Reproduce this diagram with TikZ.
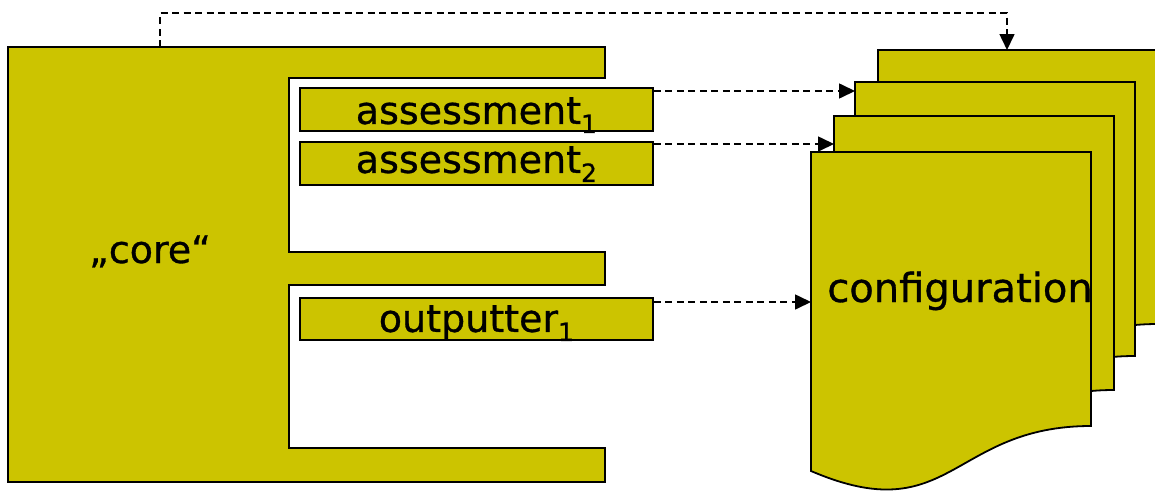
\documentclass[tikz,border=0pt]{standalone}
\usepackage{fontspec}
\setmainfont[FakeBold=0.8]{DejaVu Sans}
\usetikzlibrary{arrows.meta,calc}
\definecolor{sheetfill}{RGB}{204,196,0}
% lowered index digit used in the box labels
\newcommand\subidx[1]{\raisebox{-9pt}{\fontsize{25}{25}\selectfont #1}}
\tikzset{
  outlined/.style={fill=sheetfill,draw=black,line width=1.8pt,line join=miter},
  boxstyle/.style={outlined,rectangle,inner sep=0pt,anchor=north west,
    minimum width=353pt,font=\fontsize{38}{40}\selectfont},
  labeltext/.style={font=\fontsize{38}{40}\selectfont,anchor=base,inner sep=0pt},
  link/.style={line width=1.6pt,dash pattern=on 7pt off 4.5pt,
    -{Triangle[length=16pt,width=15pt]}},
  % document sheet with a wavy lower edge
  docsheet/.pic={
    \path[outlined] (0,0) -- (280,0) -- (280,274)
      .. controls (140,274) and (140,379) .. (0,319) -- cycle;
    \coordinate (-w) at (0,0);
    \coordinate (-top) at (129,0);
  }
}
\begin{document}
\begin{tikzpicture}[x=1pt,y=-1pt]
\clip (0,0) rectangle (1155,490);
\fill[white] (0,0) rectangle (1155,490);

% the E-shaped core block
\draw[outlined,line width=1.5pt]
  (8,47) -- (605,47) -- (605,78) -- (289,78) -- (289,252) -- (605,252)
  -- (605,285) -- (289,285) -- (289,448) -- (605,448) -- (605,482)
  -- (8,482) -- cycle;
\node[labeltext] (core) at (150,263) {„core“};
\coordinate (coretop) at (160,47);

% plug-in boxes
\node[boxstyle,text height=36pt,text depth=7pt] (a1) at (299,87)
  {assessment\subidx{1}};
\node[boxstyle,text height=31pt,text depth=12pt] (a2) at (299,141)
  {assessment\subidx{2}};
\node[boxstyle,text height=34pt,text depth=8pt] (o1) at (299,297)
  {outputter\subidx{1}};

% stack of configuration sheets, back to front
\pic (d4) at (878,50) {docsheet};
\pic (d3) at (855,82) {docsheet};
\pic (d2) at (834,116) {docsheet};
\pic (d1) at (811,152) {docsheet};
\node[labeltext,font=\fontsize{40}{42}\selectfont] (cfg) at (960,302)
  {configuration};

% dashed links
\coordinate (a1o) at ($(a1.north east)+(0,4)$);
\coordinate (a2o) at ($(a2.north east)+(0,3)$);
\coordinate (o1o) at ($(o1.north east)+(0,5)$);
\draw[link] (coretop) -- ++(0,-34) -| (d4-top);
\draw[link] (a1o) -- (a1o -| d3-w);
\draw[link] (a2o) -- (a2o -| d2-w);
\draw[link] (o1o) -- (o1o -| d1-w);
\end{tikzpicture}
\end{document}
